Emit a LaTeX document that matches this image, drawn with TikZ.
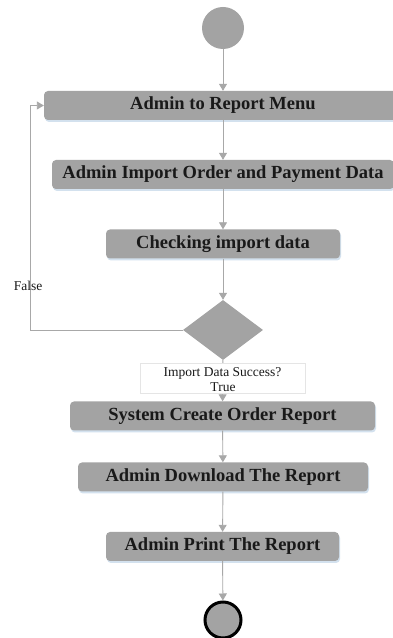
\documentclass[tikz,border=0pt]{standalone}
\usepackage{fontspec}
\setmainfont{Liberation Serif}
\usetikzlibrary{arrows.meta,shapes.geometric,shadows}

\definecolor{actgray}{HTML}{A3A3A3}
\definecolor{linegray}{HTML}{A8A8A8}
\definecolor{shadowblue}{HTML}{C9DAEA}

\tikzset{
  act/.style={rectangle, rounded corners=4pt, fill=actgray, minimum height=29pt, inner sep=0pt,
    text=black!90, font=\bfseries\fontsize{18.5}{20}\selectfont,
    drop shadow={shadow xshift=1pt, shadow yshift=-2pt, fill=shadowblue, opacity=0.8}},
  flow/.style={draw=linegray, line width=0.9pt, -{Triangle[width=8pt,length=7pt]}},
  lbl/.style={font=\fontsize{13.5}{14}\selectfont, text=black!90}
}

\begin{document}
\begin{tikzpicture}[x=1pt, y=1pt]

\useasboundingbox (0,0) rectangle (392,638);
\fill[white] (0,0) rectangle (392,638);

\node (start) at (223, 610) [circle, fill=actgray, minimum size=42pt, inner sep=0pt] {};

\node (menu) at (223, 532.5) [act, minimum width=358pt] {Admin to Report Menu};
\node (import) at (223, 463.5) [act, minimum width=342pt] {Admin Import Order and Payment Data};
\node (check) at (223, 394) [act, minimum width=234pt] {Checking import data};

\node (dec) at (223, 308) [diamond, fill=actgray, aspect=1.333, minimum width=80pt, minimum height=60pt, inner sep=0pt] {};

\node (create) at (222.5, 222) [act, minimum width=305pt] {System Create Order Report};
\node (download) at (223, 161) [act, minimum width=290pt] {Admin Download The Report};
\node (print) at (222.5, 91.5) [act, minimum width=233pt] {Admin Print The Report};

\node (stop) at (223, 18) [circle, fill=actgray, draw=black, line width=3pt, minimum size=36pt, inner sep=0pt] {};

\coordinate (loop) at (30, 308);

\draw [flow] (start) -- (menu);
\draw [flow] (menu) -- (import);
\draw [flow] (import) -- (check);
\draw [flow] (check) -- (dec);
\draw [flow] (dec) -- (create);
\draw [flow] (create) -- (download);
\draw [flow] (download) -- (print);
\draw [flow] (print) -- (stop);
\draw [flow] (dec.west) -- (loop) |- (menu.west);

\node (guard) at (222.5, 260) [draw=black!10, fill=white, minimum width=165pt, minimum height=30pt, inner sep=0pt] {};
\node (question) at (222.5, 265) [lbl] {Import Data Success?};
\node (true) at (223, 251) [lbl] {True};
\node (false) at (28, 352) [lbl] {False};

\end{tikzpicture}
\end{document}
